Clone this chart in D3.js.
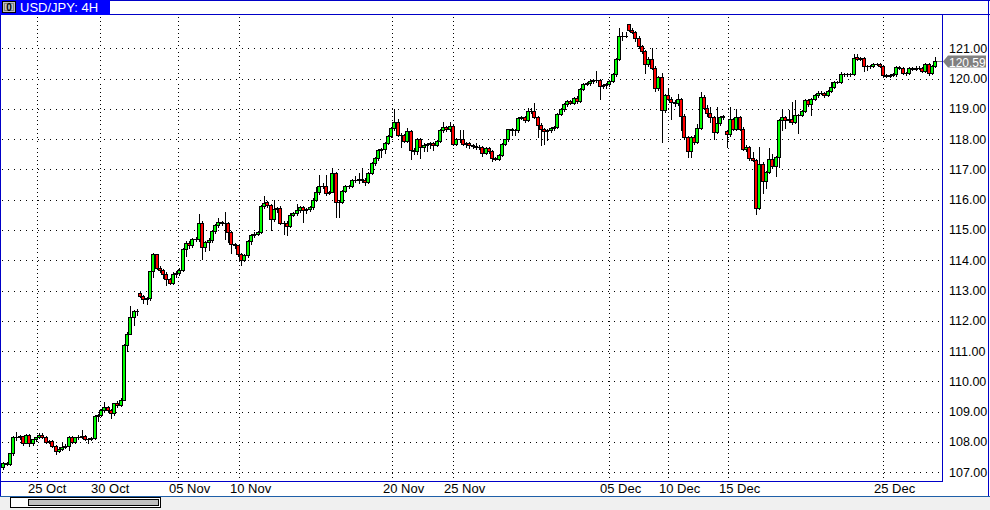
<!DOCTYPE html>
<html><head><meta charset="utf-8">
<script src="https://cdn.jsdelivr.net/npm/d3@7"></script>
<style>
html,body{margin:0;padding:0;background:#fff;overflow:hidden}
svg{display:block}
text{font-family:"Liberation Sans Narrow","Arial Narrow","Liberation Sans",sans-serif}
</style></head><body>
<svg id="c" width="990" height="510"></svg>
<script>
const chartTitle = "USD/JPY: 4H";

const opens = [
107.16,107.32,107.27,107.62,108.17,108.16,108.18,107.98,108.24,107.95,
108.08,108.15,108.24,108.17,108.00,108.03,107.87,107.71,107.78,107.84,
107.85,108.17,108.00,108.15,108.17,108.19,108.09,108.11,108.13,108.86,
108.88,109.05,109.16,109.05,108.94,109.27,109.21,109.40,111.21,111.58,
112.11,112.31,112.92,112.82,112.73,112.75,113.63,114.20,113.74,113.69,
113.56,113.39,113.26,113.56,113.57,113.69,114.38,114.58,114.49,114.69,
114.71,115.23,114.44,114.60,114.68,114.97,115.17,115.26,115.23,115.23,
114.93,114.53,114.49,114.22,114.00,114.18,114.62,114.84,114.88,114.93,
115.78,115.93,115.81,115.37,115.70,115.73,115.24,115.24,115.13,115.50,
115.56,115.65,115.76,115.65,115.70,115.76,116.00,116.27,116.46,116.44,
116.22,116.27,116.88,115.94,115.94,116.30,116.44,116.46,116.64,116.66,
116.68,116.66,116.58,116.88,117.21,117.38,117.65,117.67,117.88,118.12,
118.37,118.58,118.15,118.14,117.95,118.26,117.65,117.60,118.00,117.74,
117.82,117.83,117.86,117.82,117.93,118.29,118.40,118.32,118.43,117.84,
118.00,117.99,117.84,117.88,117.79,117.76,117.74,117.73,117.54,117.71,
117.60,117.37,117.35,117.49,117.84,117.99,118.32,118.30,118.29,118.71,
118.74,118.63,118.92,118.92,118.74,118.48,118.32,118.26,118.29,118.37,
118.40,118.84,118.98,119.15,119.26,119.20,119.37,119.25,119.67,119.83,
119.86,119.92,119.94,119.95,119.76,119.78,119.81,119.92,120.15,120.64,
121.41,121.42,121.79,121.61,121.55,121.35,121.08,120.91,120.47,120.64,
120.34,119.68,120.06,118.96,119.45,119.34,119.23,119.18,119.32,118.77,
118.08,117.60,118.08,117.91,118.38,119.40,119.04,118.87,118.74,118.24,
118.52,118.74,118.26,118.16,118.65,118.35,118.74,118.35,117.69,117.74,
117.38,117.32,115.73,117.19,116.61,116.92,117.36,117.11,117.41,118.63,
118.74,118.63,118.65,118.57,118.79,118.81,118.93,119.29,119.16,119.34,
119.45,119.53,119.54,119.45,119.59,119.73,119.89,119.90,120.15,120.14,
120.14,120.15,120.70,120.66,120.67,120.42,120.40,120.42,120.48,120.47,
120.42,120.12,120.10,120.12,120.14,120.37,120.36,120.19,120.17,120.34,
120.32,120.36,120.34,120.26,120.47,120.19,120.42];

const highs = [
107.34,107.35,107.65,108.20,108.33,108.22,108.20,108.27,108.26,108.10,
108.17,108.30,108.28,108.19,108.06,108.05,107.90,107.82,108.00,107.92,
108.20,108.20,108.17,108.22,108.39,108.22,108.13,108.16,108.90,108.92,
109.10,109.32,109.20,109.10,109.30,109.35,109.45,111.25,111.62,112.48,
112.37,112.40,112.95,112.86,112.80,113.66,114.25,114.22,113.80,113.72,
113.60,113.42,113.60,113.63,113.75,114.42,114.62,114.62,114.72,114.78,
115.52,115.28,114.65,114.72,115.00,115.20,115.40,115.30,115.59,115.27,
114.97,114.58,114.52,114.25,114.22,114.66,114.88,114.92,114.98,115.82,
116.11,115.96,115.85,115.98,115.76,115.78,115.30,115.28,115.55,115.60,
115.87,115.80,115.80,115.74,115.78,116.04,116.42,116.83,116.55,116.83,
116.30,117.05,116.92,116.00,116.33,116.47,116.50,116.68,116.77,116.88,
117.05,116.70,116.92,117.25,117.42,117.68,117.72,117.92,118.15,118.40,
118.98,118.65,118.20,118.18,118.37,118.30,117.70,118.05,118.05,117.86,
117.88,117.90,117.92,117.97,118.32,118.55,118.45,118.56,118.46,118.05,
118.30,118.30,117.92,117.92,117.84,117.87,117.80,117.76,117.75,117.74,
117.64,117.42,117.52,117.87,118.02,118.35,118.38,118.34,118.74,118.78,
118.77,119.03,119.03,119.20,118.78,118.52,118.36,118.33,118.40,118.44,
118.87,119.02,119.18,119.30,119.30,119.40,119.42,119.70,119.86,119.90,
119.95,120.00,120.25,119.98,119.82,119.85,119.96,120.18,120.68,121.66,
121.55,121.55,121.81,121.66,121.58,121.40,121.12,120.95,120.70,121.00,
120.40,120.10,120.17,119.50,119.66,119.40,119.28,119.50,119.36,118.82,
118.12,118.12,118.15,118.49,119.57,119.45,119.14,119.06,118.78,119.07,
118.78,118.81,118.30,119.07,118.70,118.98,118.78,118.40,117.80,117.78,
117.57,117.36,117.74,117.25,116.96,117.72,117.50,117.45,118.66,118.98,
118.78,118.95,119.23,119.28,118.84,118.96,119.31,119.33,119.37,119.48,
119.60,119.58,119.57,119.62,119.89,119.92,119.93,120.23,120.19,120.18,
120.18,120.80,120.80,120.72,120.70,120.46,120.45,120.52,120.51,120.50,
120.45,120.15,120.15,120.17,120.40,120.40,120.39,120.22,120.37,120.38,
120.42,120.40,120.38,120.53,120.50,120.45,120.70];

const lows = [
107.09,107.24,107.25,107.58,108.05,108.10,107.90,107.95,107.85,107.90,
108.04,108.12,108.14,107.98,107.95,107.84,107.60,107.66,107.74,107.80,
107.73,107.97,107.97,108.10,108.12,108.05,107.95,108.06,108.10,108.70,
108.85,109.00,109.00,108.80,108.90,109.15,109.18,109.38,111.00,111.55,
111.86,112.20,112.78,112.60,112.57,112.70,113.45,113.70,113.62,113.40,
113.17,113.20,113.22,113.45,113.50,113.65,114.15,114.40,114.45,114.62,
114.65,114.05,114.30,114.35,114.60,114.90,115.10,115.15,114.70,114.60,
114.25,114.40,114.15,113.83,113.97,114.10,114.55,114.78,114.82,114.90,
115.72,115.75,114.99,115.30,115.60,115.20,114.88,114.85,115.10,115.45,
115.50,115.58,115.25,115.55,115.62,115.70,115.95,116.20,116.38,116.15,
116.18,116.25,115.44,115.44,115.90,116.25,116.38,116.42,116.58,116.55,
116.60,116.50,116.55,116.85,117.15,117.30,117.40,117.55,117.85,118.08,
118.30,118.10,117.74,117.90,117.90,117.35,117.50,117.50,117.37,117.60,
117.60,117.70,117.65,117.78,117.90,118.25,118.28,118.28,117.80,117.80,
117.90,117.80,117.74,117.72,117.70,117.67,117.66,117.43,117.50,117.55,
117.27,117.30,117.30,117.45,117.80,117.95,118.15,118.15,118.25,118.65,
118.58,118.60,118.85,118.70,118.08,117.82,117.84,117.98,118.22,118.30,
118.36,118.80,118.94,119.10,119.15,119.16,119.20,119.22,119.62,119.78,
119.80,119.86,119.90,119.31,119.70,119.70,119.76,119.88,120.10,120.60,
121.28,121.36,121.58,121.50,121.25,121.00,120.85,120.19,120.40,120.30,
119.60,119.62,117.91,118.90,119.30,118.66,119.10,119.12,118.30,118.00,
117.41,117.41,117.85,117.87,118.33,118.98,118.78,118.57,118.02,118.20,
118.48,118.68,117.74,118.10,118.30,118.30,118.30,117.65,117.60,117.30,
117.28,115.54,115.68,116.23,116.39,116.88,117.05,116.78,117.08,118.30,
118.36,118.58,118.50,118.52,118.19,118.76,118.90,119.10,118.79,119.30,
119.40,119.48,119.40,119.42,119.55,119.70,119.85,119.86,120.10,120.08,
120.10,120.12,120.62,120.60,120.25,120.28,120.36,120.38,120.44,120.38,
120.04,120.06,120.06,120.08,120.10,120.32,120.15,120.12,120.14,120.28,
120.28,120.30,120.22,120.22,120.13,120.15,120.38];

const closes = [
107.32,107.27,107.62,108.17,108.16,108.18,107.98,108.24,107.95,108.08,
108.15,108.24,108.17,108.00,108.03,107.87,107.71,107.78,107.84,107.85,
108.17,108.00,108.15,108.17,108.19,108.09,108.11,108.13,108.86,108.88,
109.05,109.16,109.05,108.94,109.27,109.21,109.40,111.21,111.58,112.11,
112.31,112.31,112.82,112.73,112.75,113.63,114.20,113.74,113.69,113.56,
113.39,113.26,113.56,113.57,113.69,114.38,114.58,114.49,114.69,114.71,
115.23,114.44,114.60,114.68,114.97,115.17,115.26,115.23,115.23,114.93,
114.53,114.49,114.22,114.00,114.18,114.62,114.84,114.88,114.93,115.78,
115.89,115.81,115.37,115.70,115.73,115.24,115.24,115.13,115.50,115.56,
115.65,115.76,115.65,115.70,115.76,116.00,116.27,116.46,116.44,116.22,
116.27,116.88,115.94,115.94,116.30,116.44,116.46,116.64,116.66,116.68,
116.66,116.58,116.88,117.21,117.38,117.65,117.67,117.88,118.12,118.37,
118.58,118.15,118.14,117.95,118.26,117.65,117.60,118.00,117.74,117.82,
117.83,117.86,117.82,117.93,118.29,118.40,118.32,118.43,117.84,118.00,
117.99,117.84,117.88,117.79,117.76,117.74,117.73,117.54,117.71,117.60,
117.37,117.35,117.49,117.84,117.99,118.32,118.30,118.29,118.71,118.74,
118.63,118.92,118.92,118.74,118.48,118.32,118.26,118.29,118.37,118.40,
118.84,118.98,119.15,119.26,119.20,119.37,119.25,119.67,119.83,119.86,
119.92,119.94,119.95,119.76,119.78,119.81,119.92,120.15,120.64,121.41,
121.42,121.41,121.61,121.55,121.35,121.08,120.91,120.47,120.64,120.34,
119.68,120.06,118.96,119.45,119.34,119.23,119.18,119.32,118.77,118.08,
117.60,118.08,117.91,118.38,119.40,119.04,118.87,118.74,118.24,118.52,
118.74,118.76,118.16,118.65,118.35,118.74,118.35,117.69,117.74,117.38,
117.32,115.73,117.19,116.61,116.92,117.36,117.11,117.41,118.63,118.74,
118.63,118.65,118.57,118.79,118.81,118.93,119.29,119.16,119.34,119.45,
119.53,119.54,119.45,119.59,119.73,119.89,119.90,120.15,120.14,120.14,
120.15,120.67,120.66,120.67,120.42,120.40,120.42,120.48,120.47,120.42,
120.12,120.10,120.12,120.14,120.37,120.36,120.19,120.17,120.34,120.32,
120.36,120.34,120.26,120.47,120.19,120.42,120.59];

const priceTicks = [107,108,109,110,111,112,113,114,115,116,117,118,119,120,121];
const dateTickIdx = [10.4, 29.6, 53.7, 72.2, 119.4, 137.9, 186.0, 204.0, 222.5, 270.0];
const dateTickLabels = ["25 Oct","30 Oct","05 Nov","10 Nov","20 Nov","25 Nov","05 Dec","10 Dec","15 Dec","25 Dec"];
const lastPrice = 120.59;

const svg = d3.select("#c");
const W = 990, H = 510;
const plotRight = 942.5, plotTop = 14.5, plotBottom = 481.5;
const frameBlue = "#0000c8";

const x = d3.scaleLinear().domain([0, closes.length - 1]).range([3.4, 935.2]);
const y = d3.scaleLinear().domain([107, 121]).range([472.2, 48.3]);

const data = closes.map((c, i) => ({i, o: opens[i], h: highs[i], l: lows[i], c}));

svg.append("rect").attr("width", W).attr("height", H).attr("fill", "#fff");

// grid
const grid = svg.append("g").attr("shape-rendering", "crispEdges");
grid.selectAll("line.h").data(priceTicks).join("line")
  .attr("x1", 2).attr("x2", plotRight - 1)
  .attr("y1", d => Math.round(y(d)) + 0.5).attr("y2", d => Math.round(y(d)) + 0.5)
  .attr("stroke", "#000").attr("stroke-width", 1).attr("stroke-dasharray", "1,5");
grid.selectAll("line.v").data(dateTickIdx).join("line")
  .attr("x1", d => Math.round(x(d)) + 0.5).attr("x2", d => Math.round(x(d)) + 0.5)
  .attr("y1", plotTop + 2).attr("y2", plotBottom - 1)
  .attr("stroke", "#000").attr("stroke-width", 1).attr("stroke-dasharray", "1,3");

// candles
const cg = svg.append("g").attr("shape-rendering", "crispEdges");
const cand = cg.selectAll("g").data(data).join("g");
cand.append("line")
  .attr("x1", d => Math.round(x(d.i)) + 0.5).attr("x2", d => Math.round(x(d.i)) + 0.5)
  .attr("y1", d => Math.round(y(d.h))).attr("y2", d => Math.round(y(d.l)) + 1)
  .attr("stroke", "#000");
cand.each(function(d) {
  const g = d3.select(this);
  const r = Math.round(x(d.i));
  const top = Math.round(y(Math.max(d.o, d.c)));
  const bot = Math.round(y(Math.min(d.o, d.c)));
  if (bot - top >= 1) {
    g.append("rect").attr("x", r - 1.5).attr("y", top + 0.5)
      .attr("width", 3).attr("height", bot - top)
      .attr("fill", d.c >= d.o ? "#00ff00" : "#ff0000")
      .attr("stroke", "#000").attr("stroke-width", 1);
  } else {
    g.append("line").attr("x1", r - 2).attr("x2", r + 2)
      .attr("y1", top + 0.5).attr("y2", top + 0.5).attr("stroke", "#000");
  }
});

// last price tick
svg.append("line").attr("x1", Math.round(x(closes.length - 1)) + 2).attr("x2", plotRight - 1)
  .attr("y1", Math.round(y(lastPrice)) + 0.5).attr("y2", Math.round(y(lastPrice)) + 0.5)
  .attr("stroke", "#808080").attr("shape-rendering", "crispEdges");

// frame
const fr = svg.append("g").attr("shape-rendering", "crispEdges").attr("stroke", frameBlue).attr("fill", "none");
fr.append("line").attr("x1", 110).attr("x2", W).attr("y1", plotTop).attr("y2", plotTop);
fr.append("line").attr("x1", plotRight).attr("x2", plotRight).attr("y1", plotTop).attr("y2", plotBottom);
fr.append("line").attr("x1", 0).attr("x2", plotRight).attr("y1", plotBottom).attr("y2", plotBottom);
fr.append("line").attr("x1", 0).attr("x2", W).attr("y1", 0.5).attr("y2", 0.5);
fr.append("line").attr("x1", 0.5).attr("x2", 0.5).attr("y1", 0).attr("y2", 496);
fr.append("line").attr("x1", 988.5).attr("x2", 988.5).attr("y1", 0).attr("y2", 496);

// price axis labels
svg.append("g").selectAll("text").data(priceTicks).join("text")
  .attr("x", 949).attr("y", d => y(d) + 4.5)
  .attr("font-size", 12.5).attr("fill", "#000")
  .text(d => d.toFixed(2));

// last price tag
const ly = Math.round(y(lastPrice)) + 0.5;
svg.append("path")
  .attr("d", `M943,${ly} L948,${ly - 6} L986,${ly - 6} L986,${ly + 6} L948,${ly + 6} Z`)
  .attr("fill", "#808080");
svg.append("text").attr("x", 949).attr("y", ly + 5.5)
  .attr("font-size", 12).attr("fill", "#fff").text(lastPrice.toFixed(2));

// date labels
svg.append("g").selectAll("text").data(dateTickIdx).join("text")
  .attr("x", d => Math.round(x(d)) - 9).attr("y", 493)
  .attr("font-size", 13).attr("fill", "#000")
  .text((d, i) => dateTickLabels[i]);

// bottom scrollbar area
svg.append("rect").attr("x", 0).attr("y", 496).attr("width", W).attr("height", 14).attr("fill", "#f0f0f0");
svg.append("line").attr("x1", 0).attr("x2", W).attr("y1", 496.5).attr("y2", 496.5)
  .attr("stroke", "#1f5fa8").attr("shape-rendering", "crispEdges");
svg.append("rect").attr("x", 10.5).attr("y", 497.5).attr("width", 150).attr("height", 10)
  .attr("fill", "#fff").attr("stroke", "#000").attr("shape-rendering", "crispEdges");
svg.append("rect").attr("x", 28.5).attr("y", 499.5).attr("width", 130).attr("height", 6)
  .attr("fill", "#c0c0c0").attr("stroke", "#000").attr("shape-rendering", "crispEdges");

// title bar
svg.append("rect").attr("x", 0).attr("y", 0).attr("width", 110).attr("height", 15).attr("fill", "#0000ff");
svg.append("rect").attr("x", 2.5).attr("y", 1.5).attr("width", 13).attr("height", 11)
  .attr("fill", "#c0c0c0").attr("stroke", "#000").attr("shape-rendering", "crispEdges");
svg.append("rect").attr("x", 4.5).attr("y", 3.5).attr("width", 9).attr("height", 7)
  .attr("fill", "#c0c0c0").attr("stroke", "#808080").attr("shape-rendering", "crispEdges");
svg.append("text").attr("x", 9).attr("y", 11).attr("text-anchor", "middle")
  .attr("font-size", 10).attr("font-weight", "bold").attr("fill", "#000").text("0");
svg.append("text").attr("x", 20).attr("y", 12)
  .attr("font-size", 13).attr("fill", "#fff").text(chartTitle);
</script>
</body></html>
